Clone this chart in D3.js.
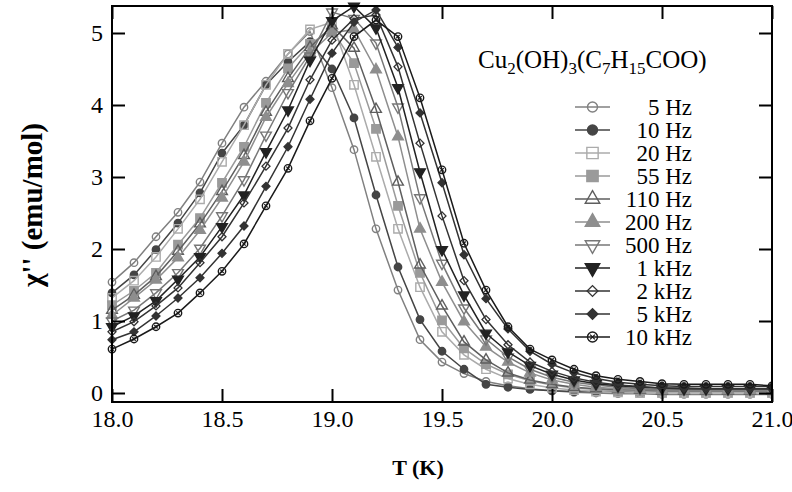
<!DOCTYPE html>
<html>
<head>
<meta charset="utf-8">
<script src="https://cdn.jsdelivr.net/npm/d3@7"></script>
<style>
body { margin: 0; background: #fff; }
svg text { font-family: "Liberation Serif", "Times New Roman", serif; fill: #000; }
</style>
</head>
<body>
<div id="chart"></div>
<script>
// temperatures (K) of the measured points
let temps = [18.0, 18.1, 18.2, 18.3, 18.4, 18.5, 18.6, 18.7, 18.8, 18.9,
             19.0, 19.1, 19.2, 19.3, 19.4, 19.5, 19.6, 19.7, 19.8, 19.9,
             20.0, 20.1, 20.2, 20.3, 20.4, 20.5, 20.6, 20.7, 20.8, 20.9,
             21.0, 21.1];

let freqLabels = ["5 Hz", "10 Hz", "20 Hz", "55 Hz", "110 Hz", "200 Hz", "500 Hz", "1 kHz", "2 kHz", "5 kHz", "10 kHz"];

// chi'' (emu/mol)
let chi5Hz   = [1.54, 1.81, 2.17, 2.51, 2.93, 3.47, 3.97, 4.33, 4.71, 5.02, 4.24, 3.38, 2.28, 1.43, 0.74, 0.43, 0.27, 0.16, 0.10, 0.06, 0.03, 0.01, 0.00, -0.01, -0.01, -0.02, -0.02, -0.02, -0.02, -0.02, -0.02, -0.02];
let chi10Hz  = [1.39, 1.64, 1.99, 2.36, 2.78, 3.33, 3.72, 4.28, 4.60, 4.88, 4.50, 3.82, 2.75, 1.75, 1.02, 0.58, 0.33, 0.12, 0.08, 0.05, 0.03, 0.02, 0.02, 0.02, 0.02, 0.02, 0.02, 0.02, 0.02, 0.02, 0.02, 0.02];
let chi20Hz  = [1.32, 1.56, 1.89, 2.28, 2.69, 3.21, 3.72, 4.28, 4.71, 5.05, 5.15, 4.28, 3.28, 2.28, 1.47, 0.85, 0.53, 0.33, 0.20, 0.12, 0.07, 0.04, 0.02, 0.01, 0.00, 0.00, 0.00, 0.00, 0.00, 0.00, 0.00, 0.00];
let chi55Hz  = [1.22, 1.42, 1.67, 2.06, 2.43, 2.92, 3.42, 4.03, 4.51, 4.85, 5.04, 4.58, 3.67, 2.60, 1.67, 1.01, 0.62, 0.40, 0.26, 0.17, 0.11, 0.07, 0.05, 0.03, 0.02, 0.02, 0.02, 0.02, 0.02, 0.02, 0.02, 0.02];
let chi110Hz = [1.15, 1.36, 1.62, 1.97, 2.35, 2.80, 3.30, 3.90, 4.37, 4.80, 5.10, 4.79, 3.94, 2.93, 1.78, 1.21, 0.71, 0.46, 0.28, 0.18, 0.12, 0.08, 0.06, 0.05, 0.04, 0.03, 0.03, 0.03, 0.03, 0.03, 0.03, 0.03];
let chi200Hz = [1.08, 1.32, 1.57, 1.88, 2.26, 2.71, 3.21, 3.83, 4.30, 4.72, 5.00, 5.05, 4.49, 3.56, 2.28, 1.54, 0.99, 0.64, 0.43, 0.28, 0.18, 0.12, 0.08, 0.06, 0.05, 0.04, 0.04, 0.04, 0.04, 0.04, 0.04, 0.04];
let chi500Hz = [1.00, 1.15, 1.39, 1.67, 2.01, 2.46, 2.96, 3.58, 4.17, 4.68, 5.29, 5.20, 4.86, 3.97, 2.71, 1.80, 1.18, 0.75, 0.50, 0.33, 0.22, 0.15, 0.11, 0.08, 0.06, 0.05, 0.05, 0.05, 0.05, 0.05, 0.05, 0.05];
let chi1kHz  = [0.92, 1.07, 1.28, 1.58, 1.89, 2.31, 2.75, 3.35, 3.93, 4.62, 5.17, 5.37, 5.07, 4.24, 3.07, 1.99, 1.36, 0.83, 0.57, 0.38, 0.26, 0.18, 0.13, 0.10, 0.08, 0.07, 0.06, 0.06, 0.06, 0.06, 0.06, 0.06];
let chi2kHz  = [0.85, 0.99, 1.21, 1.46, 1.81, 2.17, 2.64, 3.15, 3.68, 4.35, 4.90, 5.20, 5.25, 4.53, 3.47, 2.46, 1.56, 1.02, 0.67, 0.43, 0.30, 0.21, 0.15, 0.11, 0.09, 0.07, 0.07, 0.06, 0.06, 0.06, 0.06, 0.06];
let chi5kHz  = [0.74, 0.85, 1.07, 1.32, 1.60, 1.94, 2.32, 2.87, 3.42, 4.08, 4.72, 5.15, 5.32, 4.80, 3.89, 2.92, 1.92, 1.31, 0.89, 0.58, 0.40, 0.28, 0.20, 0.15, 0.12, 0.10, 0.09, 0.09, 0.09, 0.09, 0.09, 0.08];
let chi10kHz = [0.61, 0.75, 0.92, 1.11, 1.39, 1.69, 2.07, 2.60, 3.12, 3.78, 4.37, 4.95, 5.18, 4.95, 4.10, 3.10, 2.08, 1.43, 0.92, 0.61, 0.46, 0.33, 0.24, 0.19, 0.16, 0.13, 0.12, 0.12, 0.12, 0.12, 0.10, 0.08];

let xTicks = [18.0, 18.5, 19.0, 19.5, 20.0, 20.5, 21.0];
let yTicks = [0, 1, 2, 3, 4, 5];

// series values in legend order
let seriesValues = [chi5Hz, chi10Hz, chi20Hz, chi55Hz, chi110Hz, chi200Hz, chi500Hz, chi1kHz, chi2kHz, chi5kHz, chi10kHz];

// marker look for every series (same order)
let markerStyle = [
    { shape: "circle",   filled: false, color: "#808080" },
    { shape: "circle",   filled: true,  color: "#454545" },
    { shape: "square",   filled: false, color: "#ababab" },
    { shape: "square",   filled: true,  color: "#9a9a9a" },
    { shape: "triangle", filled: false, color: "#5e5e5e" },
    { shape: "triangle", filled: true,  color: "#8e8e8e" },
    { shape: "tridown",  filled: false, color: "#777777" },
    { shape: "tridown",  filled: true,  color: "#222222" },
    { shape: "diamond",  filled: false, color: "#333333" },
    { shape: "diamond",  filled: true,  color: "#333333" },
    { shape: "circlex",  filled: false, color: "#1a1a1a" }
];

let serif = "'Liberation Serif', 'Times New Roman', serif";
let width = 792, height = 492;
let margin = { left: 112, right: 20, top: 6, bottom: 90 };

let svg = d3.select("#chart").append("svg")
    .attr("width", width)
    .attr("height", height)
    .attr("font-family", serif);

let x = d3.scaleLinear().domain([18, 21]).range([margin.left, width - margin.right]);
let y = d3.scaleLinear().domain([-0.125, 5.375]).range([height - margin.bottom, margin.top]);

// clip the curves at the right border only
svg.append("clipPath").attr("id", "plotClip")
    .append("rect")
    .attr("x", margin.left - 12)
    .attr("y", 0)
    .attr("width", x(21) - margin.left + 12)
    .attr("height", y.range()[0]);

// draw one marker
let drawMarker = (g, style, scale) => {
    let fill = style.filled ? style.color : "none";
    if (style.shape === "circle" || style.shape === "circlex") {
        g.append("circle").attr("r", 3.7 * scale)
            .attr("fill", fill).attr("stroke", style.color).attr("stroke-width", 1.4);
        if (style.shape === "circlex") {
            g.append("path").attr("d", d3.symbol(d3.symbolX, 9 * scale * scale)())
                .attr("stroke", style.color).attr("stroke-width", 1.3).attr("fill", "none");
        }
    } else if (style.shape === "square") {
        g.append("path").attr("d", d3.symbol(d3.symbolSquare, 70 * scale * scale)())
            .attr("fill", fill).attr("stroke", style.color).attr("stroke-width", 1.4);
    } else if (style.shape === "triangle" || style.shape === "tridown") {
        g.append("path").attr("d", d3.symbol(d3.symbolTriangle, 50 * scale * scale)())
            .attr("transform", style.shape === "tridown" ? "rotate(180)" : null)
            .attr("fill", fill).attr("stroke", style.color).attr("stroke-width", 1.4);
    } else if (style.shape === "diamond") {
        g.append("path").attr("d", d3.symbol(d3.symbolSquare, 32 * scale * scale)())
            .attr("transform", "rotate(45)")
            .attr("fill", fill).attr("stroke", style.color).attr("stroke-width", 1.3);
    }
};

let plot = svg.append("g").attr("clip-path", "url(#plotClip)");

let line = d3.line()
    .x((d, i) => x(temps[i]))
    .y(d => y(d));

seriesValues.forEach((values, k) => {
    let style = markerStyle[k];
    let g = plot.append("g");
    g.append("path")
        .datum(values)
        .attr("d", line)
        .attr("fill", "none")
        .attr("stroke", style.color)
        .attr("stroke-width", 1.5);

    g.selectAll("g.pt")
        .data(values)
        .join("g")
        .attr("class", "pt")
        .attr("transform", (d, i) => `translate(${x(temps[i])},${y(d)})`)
        .each(function () { drawMarker(d3.select(this), style, 1); });
});

// axes, ticks pointing inward on all four sides
let x0 = x(18), x1 = x(21), yb = y.range()[0], yt = y.range()[1];

let bottomAxis = svg.append("g")
    .attr("transform", `translate(0,${yb})`)
    .call(d3.axisBottom(x).tickValues(xTicks).tickFormat(d3.format(".1f"))
        .tickSizeInner(-13).tickSizeOuter(0).tickPadding(8));
let topAxis = svg.append("g")
    .attr("transform", `translate(0,${yt})`)
    .call(d3.axisTop(x).tickValues(xTicks).tickFormat("")
        .tickSizeInner(-13).tickSizeOuter(0));
let leftAxis = svg.append("g")
    .attr("transform", `translate(${x0},0)`)
    .call(d3.axisLeft(y).tickValues(yTicks).tickFormat(d3.format("d"))
        .tickSizeInner(-13).tickSizeOuter(0).tickPadding(9));
let rightAxis = svg.append("g")
    .attr("transform", `translate(${x1},0)`)
    .call(d3.axisRight(y).tickValues(yTicks).tickFormat("")
        .tickSizeInner(-13).tickSizeOuter(0));

[bottomAxis, topAxis, leftAxis, rightAxis].forEach(a => {
    a.attr("font-family", serif).attr("font-size", 24);
    a.select(".domain").remove();
    a.selectAll(".tick line").attr("stroke", "#000").attr("stroke-width", 2);
    a.selectAll(".tick text").attr("fill", "#000");
});

svg.append("rect")
    .attr("x", x0).attr("y", yt)
    .attr("width", x1 - x0).attr("height", yb - yt)
    .attr("fill", "none").attr("stroke", "#000").attr("stroke-width", 2);

// axis titles
svg.append("text")
    .attr("x", 418)
    .attr("y", 475)
    .attr("text-anchor", "middle")
    .attr("font-size", 22)
    .attr("font-weight", "bold")
    .text("T (K)");

svg.append("text")
    .attr("transform", `translate(42,205) rotate(-90)`)
    .attr("text-anchor", "middle")
    .attr("font-size", 29)
    .attr("font-weight", "bold")
    .text("χ'' (emu/mol)");

// legend
let title = svg.append("text")
    .attr("x", 478).attr("y", 68)
    .attr("font-size", 25);
[["Cu", false], ["2", true], ["(OH)", false], ["3", true], ["(C", false], ["7", true],
 ["H", false], ["15", true], ["COO)", false]].forEach(([t, sub], i, arr) => {
    let prevSub = i > 0 && arr[i - 1][1];
    title.append("tspan")
        .attr("dy", sub ? 6 : (prevSub ? -6 : 0))
        .attr("font-size", sub ? 17 : 25)
        .text(t);
});

let legend = svg.append("g");
freqLabels.forEach((label, k) => {
    let style = markerStyle[k];
    let row = legend.append("g").attr("transform", `translate(0,${107 + k * 23})`);
    row.append("line")
        .attr("x1", 575).attr("x2", 610)
        .attr("stroke", style.color).attr("stroke-width", 1.5);
    let m = row.append("g").attr("transform", "translate(592.5,0)");
    drawMarker(m, style, 1.35);
    row.append("text")
        .attr("x", 692).attr("y", 0)
        .attr("dy", "0.35em")
        .attr("text-anchor", "end")
        .attr("font-size", 23)
        .text(label);
});
</script>
</body>
</html>
